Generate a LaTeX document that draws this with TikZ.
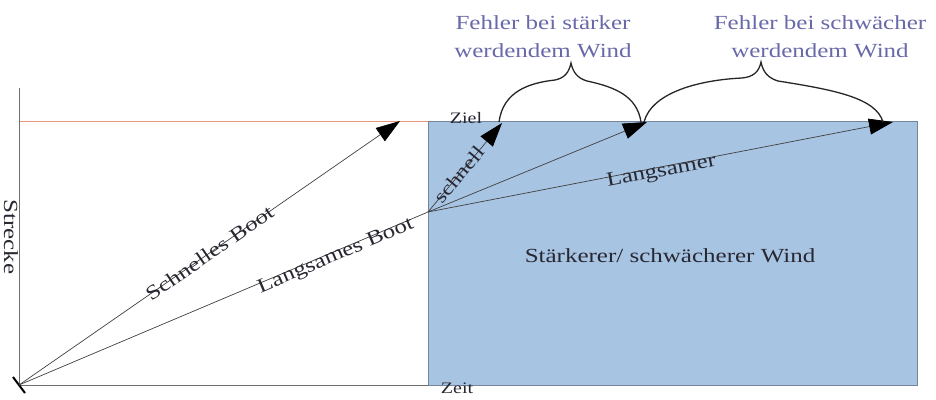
\documentclass[tikz,border=0pt]{standalone}
\usepackage{fontspec}
\setmainfont{Liberation Serif}
\usetikzlibrary{arrows.meta}
\definecolor{rectfill}{RGB}{168,196,227}
\definecolor{rectedge}{RGB}{118,132,158}
\definecolor{axisgray}{RGB}{110,110,110}
\definecolor{goalred}{RGB}{232,150,128}
\definecolor{labelblue}{RGB}{105,105,170}
\definecolor{txtgray}{RGB}{40,40,50}
\newcommand{\wtxt}[2]{\scalebox{1.25}[1]{\fontsize{#1}{#1}\selectfont #2}}
\tikzset{
  boat/.style={draw=black!75, line width=0.7pt, -{Triangle[length=24pt,width=16pt,color=black,fill=black]}},
  lbl/.style={inner sep=0pt, text=txtgray},
  errlbl/.style={inner sep=0pt, text=labelblue, align=center},
  brace/.style={draw=black!85, line width=1.3pt},
}
\begin{document}
\begin{tikzpicture}[x=1pt,y=-1pt]
\useasboundingbox (0,0) rectangle (936,399);
% rectangle (wind zone)
\node[draw=rectedge, fill=rectfill, line width=1.2pt, minimum width=489pt, minimum height=264pt, anchor=north west, inner sep=0pt] (zone) at (428,121) {};
% axes
\coordinate (O) at (19,385);
\coordinate (Atop) at (19,88);
\coordinate (Aend) at (428,385);
\draw[axisgray, line width=0.9pt] (Atop) -- (O) -- (Aend);
\coordinate (G0) at (20,121);
\coordinate (G1) at (428,121);
\draw[goalred, line width=0.8pt] (G0) -- (G1);
\coordinate (K0) at (13,377);
\coordinate (K1) at (25,393);
\draw[black, line width=2pt] (K0) -- (K1);
% points
\coordinate (S) at (400,121);
\coordinate (M) at (428,212);
\coordinate (T1) at (502,123);
\coordinate (T2) at (647,122);
\coordinate (T3) at (893,122);
% boats
\draw[boat] (O) -- node[lbl, sloped, pos=0.5] (ls) {\wtxt{20}{Schnelles Boot}} (S);
\draw[draw=black!75, line width=0.7pt] (O) -- node[lbl, sloped, pos=0.77, yshift=-5pt] (ll) {\wtxt{20}{Langsames Boot}} (M);
\draw[boat] (M) -- node[lbl, sloped, pos=0.42] (lsn) {\wtxt{19}{schnell}} (T1);
\draw[boat] (M) -- (T2);
\draw[boat] (M) -- node[lbl, sloped, pos=0.5, yshift=-5pt] (lls) {\wtxt{20}{Langsamer}} (T3);
% braces
\draw[brace] (499,122) .. controls (503,92) and (528,83) .. (555,80) .. controls (565,78) and (569,72) .. (571,63) .. controls (573,72) and (577,78) .. (587,81) .. controls (615,87) and (637,96) .. (641,122);
\draw[brace] (644,122) .. controls (652,92) and (700,80) .. (742,78) .. controls (753,77) and (759,72) .. (761,62) .. controls (763,72) and (768,78) .. (778,81) .. controls (835,90) and (876,98) .. (883,122);
% labels
\node[lbl] (ziel) at (466,118) {\wtxt{16}{Ziel}};
\node[lbl] (zeit) at (457,388) {\wtxt{16}{Zeit}};
\node[lbl, rotate=-90] (strecke) at (11,237) {\wtxt{20}{Strecke}};
\node[lbl] (wind) at (670,256) {\wtxt{20}{Stärkerer/ schwächerer Wind}};
\node[errlbl] (e1) at (543,37) {\wtxt{20}{Fehler bei stärker}\\[13pt]\wtxt{20}{werdendem Wind}};
\node[errlbl] (e2) at (820,37) {\wtxt{20}{Fehler bei schwächer}\\[13pt]\wtxt{20}{werdendem Wind}};
\end{tikzpicture}
\end{document}
